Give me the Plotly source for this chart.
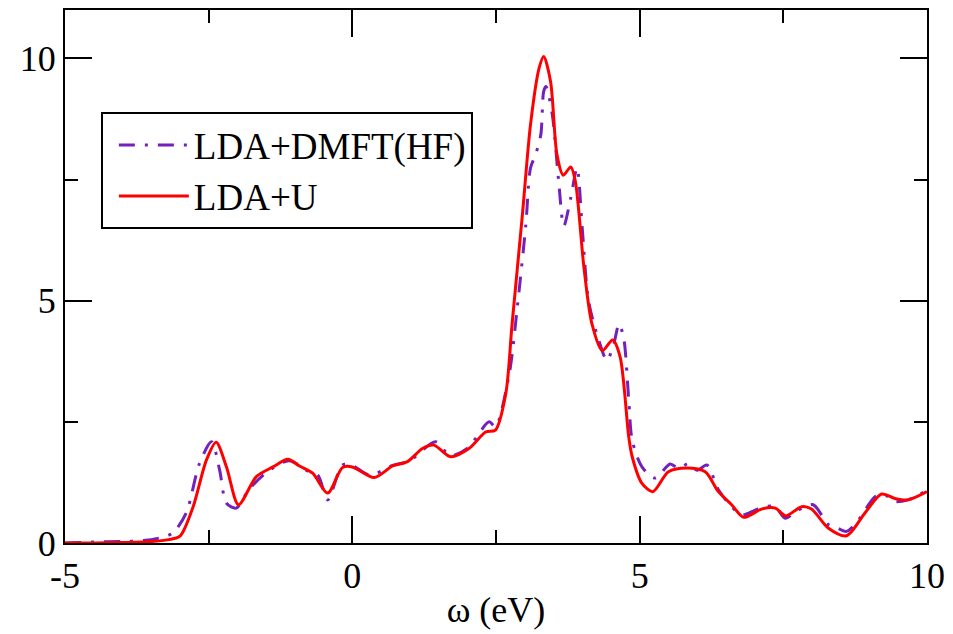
import plotly.graph_objects as go

# LDA+U (red solid)
x_ldau = [-5, -4.5, -4, -3.5, -3.2, -3.0, -2.77, -2.54, -2.37, -2.19, -1.98, -1.67, -1.38, -1.12,
          -0.92, -0.69, -0.43, -0.17, 0.0, 0.38, 0.70, 0.96, 1.22, 1.42, 1.71, 2.03, 2.32, 2.49,
          2.67, 2.78, 2.96, 3.10, 3.25, 3.33, 3.45, 3.56, 3.67, 3.80, 3.88, 4.03, 4.17, 4.35, 4.53,
          4.66, 4.81, 4.87, 5.04, 5.23, 5.50, 5.82, 6.14, 6.37, 6.60, 6.81, 7.12, 7.36, 7.54, 7.82,
          7.99, 8.28, 8.60, 8.92, 9.21, 9.44, 9.67, 10.0]
y_ldau = [0.0, 0.0, 0.01, 0.03, 0.07, 0.14, 0.75, 1.71, 2.08, 1.57, 0.79, 1.37, 1.57, 1.73,
          1.59, 1.44, 1.03, 1.56, 1.57, 1.35, 1.59, 1.68, 1.95, 2.02, 1.78, 1.95, 2.29, 2.33,
          3.08, 4.52, 6.78, 8.63, 9.80, 10.04, 9.52, 8.02, 7.59, 7.76, 7.47, 5.69, 4.52, 3.97, 4.19,
          3.84, 2.19, 1.78, 1.23, 1.06, 1.47, 1.55, 1.47, 1.06, 0.79, 0.53, 0.70, 0.72, 0.56, 0.75,
          0.70, 0.31, 0.15, 0.62, 1.01, 0.92, 0.89, 1.06]

# LDA+DMFT(HF) (violet dash-dot)
x_dmft = [-5, -4.5, -4, -3.64, -3.3, -3.12, -2.89, -2.66, -2.45, -2.31, -2.19, -2.02, -1.8, -1.5,
          -1.1, -0.8, -0.6, -0.43, -0.17, 0.0, 0.3, 0.7, 1.0, 1.45, 1.7, 2.0, 2.38, 2.49, 2.73,
          2.87, 3.02, 3.10, 3.19, 3.28, 3.33, 3.37, 3.48, 3.59, 3.68, 3.80, 3.91, 4.00, 4.11, 4.29,
          4.43, 4.55, 4.64, 4.72, 4.81, 4.87, 5.04, 5.27, 5.53, 5.68, 5.85, 6.0, 6.17, 6.37, 6.6,
          6.78, 7.01, 7.18, 7.36, 7.53, 7.76, 8.02, 8.28, 8.39, 8.60, 8.81, 9.10, 9.27, 9.41, 9.67, 10.0]
y_dmft = [0.0, 0.02, 0.03, 0.05, 0.12, 0.21, 0.62, 1.64, 2.09, 1.51, 0.82, 0.72, 1.1, 1.45,
          1.7, 1.5, 1.4, 0.89, 1.61, 1.6, 1.4, 1.6, 1.7, 2.09, 1.8, 1.95, 2.5, 2.4, 3.49,
          4.86, 6.58, 7.74, 8.02, 8.43, 9.32, 9.42, 8.84, 7.47, 6.54, 7.12, 7.74, 6.51, 5.0, 4.18,
          3.77, 4.11, 4.52, 4.25, 2.95, 2.12, 1.57, 1.34, 1.63, 1.54, 1.64, 1.5, 1.61, 1.1, 0.75,
          0.58, 0.68, 0.75, 0.75, 0.51, 0.68, 0.79, 0.38, 0.34, 0.24, 0.48, 0.96, 1.0, 0.86, 0.89, 1.09]

x_ticks = [-5, 0, 5, 10]
y_ticks = [0, 5, 10]

FONT = "Liberation Serif"

fig = go.Figure()
fig.add_trace(go.Scatter(
    x=x_dmft, y=y_dmft, mode="lines", name="LDA+DMFT(HF)",
    line=dict(color="#7221bc", width=3, dash="16px,10px,3px,10px", shape="spline", smoothing=0.8),
))
fig.add_trace(go.Scatter(
    x=x_ldau, y=y_ldau, mode="lines", name="LDA+U",
    line=dict(color="#ff0000", width=3, shape="spline", smoothing=0.8),
))

axis_common = dict(
    showgrid=False, zeroline=False, showline=True, linecolor="black", linewidth=2,
    mirror="ticks", ticks="inside", ticklen=27, tickwidth=2, tickcolor="black",
    tickfont=dict(family=FONT, size=36, color="black"),
)

fig.update_layout(
    width=953, height=634,
    margin=dict(l=65, r=23, t=8, b=91),
    paper_bgcolor="white", plot_bgcolor="white",
    font=dict(family=FONT, size=36, color="black"),
    showlegend=True,
    legend=dict(
        x=0.0416, y=0.808, xanchor="left", yanchor="top",
        bgcolor="white", bordercolor="black", borderwidth=2,
        font=dict(family=FONT, size=37, color="black"),
        itemwidth=70, indentation=11, tracegroupgap=0,
    ),
    xaxis=dict(
        range=[-5, 10], tickvals=x_ticks, ticktext=[str(v) for v in x_ticks],
        minor=dict(tickvals=[-2.5, 2.5, 7.5], ticks="inside", ticklen=13, tickwidth=2, tickcolor="black"),
        title=dict(text="ω (eV)", font=dict(family=FONT, size=36, color="black"), standoff=2),
        **axis_common,
    ),
    yaxis=dict(
        range=[0, 11], tickvals=y_ticks, ticktext=[str(v) for v in y_ticks],
        minor=dict(tickvals=[2.5, 7.5], ticks="inside", ticklen=13, tickwidth=2, tickcolor="black"),
        **axis_common,
    ),
)

fig.write_html("out.html", config={"displayModeBar": False},
               post_script="document.body.style.margin='0';")
